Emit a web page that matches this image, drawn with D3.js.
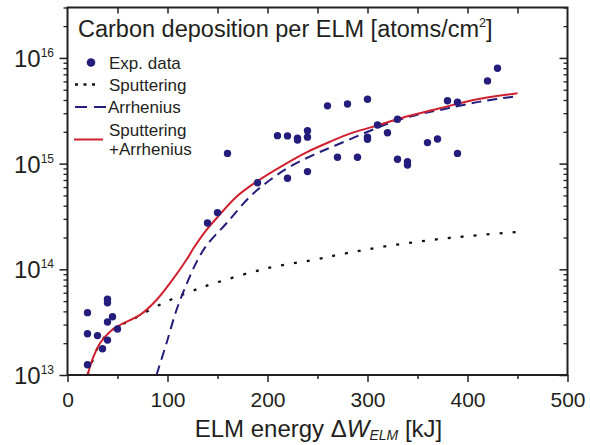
<!DOCTYPE html>
<html><head><meta charset="utf-8">
<script src="https://cdn.jsdelivr.net/npm/d3@7"></script>
<style>
body{margin:0;background:#fff;}
svg{display:block;font-family:"Liberation Sans",Arial,sans-serif;}
</style></head>
<body>
<svg id="c" width="590" height="445"></svg>
<script>
// ---- data ----
const expE = [20,20,20,30,35,40,40,40,40,45,50,140,150,160,190,210,220,220,230,230,240,240,240,260,270,280,290,300,300,300,310,320,330,330,340,340,360,370,380,390,390,420,430];
const expC = [1.25e13,2.46e13,3.89e13,2.36e13,1.77e13,2.14e13,3.17e13,5.2e13,4.83e13,3.56e13,2.72e13,2.74e14,3.44e14,1.25e15,6.6e14,1.84e15,1.83e15,7.27e14,1.74e15,1.67e15,2.05e15,1.78e15,8.4e14,3.52e15,1.15e15,3.67e15,1.15e15,4.06e15,1.78e15,1.70e15,2.32e15,1.96e15,2.63e15,1.10e15,1.04e15,9.7e14,1.58e15,1.71e15,3.94e15,3.81e15,1.25e15,6.06e15,7.98e15];
const sputE = [20,32.5,42.5,52.5,62.5,76,99,122.5,149,199,246,279,312.5,346,379,412.5,450];
const sputC = [1.0e13,2.0e13,2.57e13,2.97e13,3.25e13,3.84e13,4.94e13,6.14e13,7.48e13,1.02e14,1.23e14,1.42e14,1.62e14,1.80e14,1.97e14,2.11e14,2.26e14];
const arrE = [89,99,109,119,129,139,159,182.5,202.5,222.5,246,269,306,326,349,372.5,412.5,450];
const arrC = [1e13,2.0e13,4.12e13,7.2e13,1.17e14,1.68e14,2.73e14,4.87e14,7.0e14,9.35e14,1.21e15,1.50e15,2.11e15,2.50e15,2.89e15,3.22e15,3.86e15,4.35e15];
const sumE = [20,26,32.5,42.5,52.5,72.5,89,102.5,119,126,139,149,169,190,216,239,262.5,282.5,306,339,372.5,406,450];
const sumC = [1.0e13,1.49e13,2.0e13,2.57e13,2.97e13,3.70e13,5.13e13,7.4e13,1.23e14,1.58e14,2.36e14,3.04e14,4.87e14,6.85e14,9.7e14,1.28e15,1.61e15,1.92e15,2.24e15,2.79e15,3.34e15,4.0e15,4.63e15];
const xTicks = [0,100,200,300,400,500];
const yTickExp = [13,14,15,16];
const legendLabels = ["Exp. data","Sputtering","Arrhenius",["Sputtering","+Arrhenius"]];
const titleText = "Carbon deposition per ELM [atoms/cm";
const xLabelParts = ["ELM energy \u0394","W","ELM"," [kJ]"];

// ---- setup ----
const navy = "#241d7b", red = "#d0202e", ink = "#231f20";
const svg = d3.select("#c");
const L = 67.5, R = 567.5, T = 7.5, B = 375;
const x = d3.scaleLinear().domain([0,500]).range([L,R]);
const y = d3.scaleLog().domain([1e13,3e16]).range([B,T]);

svg.append("defs").append("clipPath").attr("id","clip")
  .append("rect").attr("x",L).attr("y",T).attr("width",R-L).attr("height",B-T);

const g = svg.append("g").attr("clip-path","url(#clip)");
const zip = (a,b)=>a.map((v,i)=>[v,b[i]]);
const line = d3.line().x(d=>x(d[0])).y(d=>y(d[1])).curve(d3.curveCatmullRom.alpha(0.5));

g.append("path").attr("d",line(zip(sputE,sputC))).attr("fill","none")
  .attr("stroke","#111").attr("stroke-width",2.3).attr("stroke-dasharray","3,10");
g.append("path").attr("d",line(zip(arrE,arrC))).attr("fill","none")
  .attr("stroke",navy).attr("stroke-width",2).attr("stroke-dasharray","10,6");
g.append("path").attr("d",line(zip(sumE,sumC))).attr("fill","none")
  .attr("stroke",red).attr("stroke-width",2);
g.selectAll("circle.pt").data(zip(expE,expC)).enter().append("circle")
  .attr("class","pt").attr("cx",d=>x(d[0])).attr("cy",d=>y(d[1])).attr("r",3.7).attr("fill",navy);

// ---- axes ----
svg.append("g").attr("transform",`translate(0,${B})`)
  .call(d3.axisBottom(x).tickValues(xTicks).tickSize(7).tickFormat(d3.format("d")))
  .call(s=>{s.select(".domain").remove();s.selectAll("line").attr("stroke",ink).attr("stroke-width",1.5);
    s.selectAll("text").attr("font-size",21).attr("fill",ink).attr("dy",0).attr("y",31.5);});
svg.append("g").attr("transform",`translate(0,${B})`)
  .call(d3.axisBottom(x).tickValues(d3.range(50,500,100)).tickSize(4).tickFormat(""))
  .call(s=>{s.select(".domain").remove();s.selectAll("line").attr("stroke",ink).attr("stroke-width",1.5);});
svg.append("g").attr("transform",`translate(0,${T})`)
  .call(d3.axisTop(x).tickValues(d3.range(50,500,50)).tickSize(-6).tickFormat(""))
  .call(s=>{s.select(".domain").remove();s.selectAll("line").attr("stroke",ink).attr("stroke-width",1.5);});
const majors = yTickExp.map(e=>Math.pow(10,e));
const minors = [];
for(let e=13;e<=16;e++) for(let m=2;m<=9;m++){const v=m*Math.pow(10,e); if(v<=3e16) minors.push(v);}
svg.append("g").attr("transform",`translate(${L},0)`)
  .call(d3.axisLeft(y).tickValues(majors).tickSize(8).tickFormat(""))
  .call(s=>{s.select(".domain").remove();s.selectAll("line").attr("stroke",ink).attr("stroke-width",1.5);});
svg.append("g").attr("transform",`translate(${L},0)`)
  .call(d3.axisLeft(y).tickValues(minors).tickSize(4).tickFormat(""))
  .call(s=>{s.select(".domain").remove();s.selectAll("line").attr("stroke",ink).attr("stroke-width",1.3);});
svg.append("g").attr("transform",`translate(${R},0)`)
  .call(d3.axisRight(y).tickValues(majors).tickSize(-8).tickFormat(""))
  .call(s=>{s.select(".domain").remove();s.selectAll("line").attr("stroke",ink).attr("stroke-width",1.5);});
svg.append("g").attr("transform",`translate(${R},0)`)
  .call(d3.axisRight(y).tickValues(minors).tickSize(-4).tickFormat(""))
  .call(s=>{s.select(".domain").remove();s.selectAll("line").attr("stroke",ink).attr("stroke-width",1.3);});
svg.append("rect").attr("x",L).attr("y",T).attr("width",R-L).attr("height",B-T)
  .attr("fill","none").attr("stroke",ink).attr("stroke-width",2);

// y tick labels
yTickExp.forEach(e=>{
  const t = svg.append("text").attr("x",54).attr("y",y(Math.pow(10,e))+9)
    .attr("text-anchor","end").attr("fill",ink).attr("font-size",24);
  t.append("tspan").text("10");
  t.append("tspan").attr("font-size",12).attr("dy",-10).text(e);
});

// title
const tt = svg.append("text").attr("x",78).attr("y",36.5).attr("font-size",23.5).attr("fill",ink);
tt.append("tspan").text(titleText);
tt.append("tspan").attr("font-size",12.5).attr("dy",-9.5).text("2");
tt.append("tspan").attr("dy",9.5).text("]");

// x label
const xl = svg.append("text").attr("x",(L+R)/2+1).attr("y",436.5).attr("text-anchor","middle")
  .attr("font-size",24).attr("fill",ink);
xl.append("tspan").text(xLabelParts[0]);
xl.append("tspan").attr("font-style","italic").text(xLabelParts[1]);
xl.append("tspan").attr("font-style","italic").attr("font-size",14).attr("dy",3).text(xLabelParts[2]);
xl.append("tspan").attr("dy",-3).text(xLabelParts[3]);

// legend
const lg = svg.append("g").attr("font-size",17).attr("fill",ink);
lg.append("circle").attr("cx",91).attr("cy",62.5).attr("r",4.3).attr("fill",navy);
lg.append("text").attr("x",109).attr("y",68.5).text(legendLabels[0]);
lg.append("line").attr("x1",75).attr("x2",99).attr("y1",84.5).attr("y2",84.5)
  .attr("stroke","#111").attr("stroke-width",2.3).attr("stroke-dasharray","3,5.5");
lg.append("text").attr("x",109).attr("y",90.5).text(legendLabels[1]);
lg.append("line").attr("x1",75).attr("x2",106).attr("y1",107).attr("y2",107)
  .attr("stroke",navy).attr("stroke-width",2).attr("stroke-dasharray","12,7");
lg.append("text").attr("x",108).attr("y",112.7).text(legendLabels[2]);
lg.append("line").attr("x1",74).attr("x2",103).attr("y1",139.5).attr("y2",139.5)
  .attr("stroke",red).attr("stroke-width",2);
lg.append("text").attr("x",109).attr("y",135.7).text(legendLabels[3][0]);
lg.append("text").attr("x",109).attr("y",155).text(legendLabels[3][1]);
</script>
</body></html>
